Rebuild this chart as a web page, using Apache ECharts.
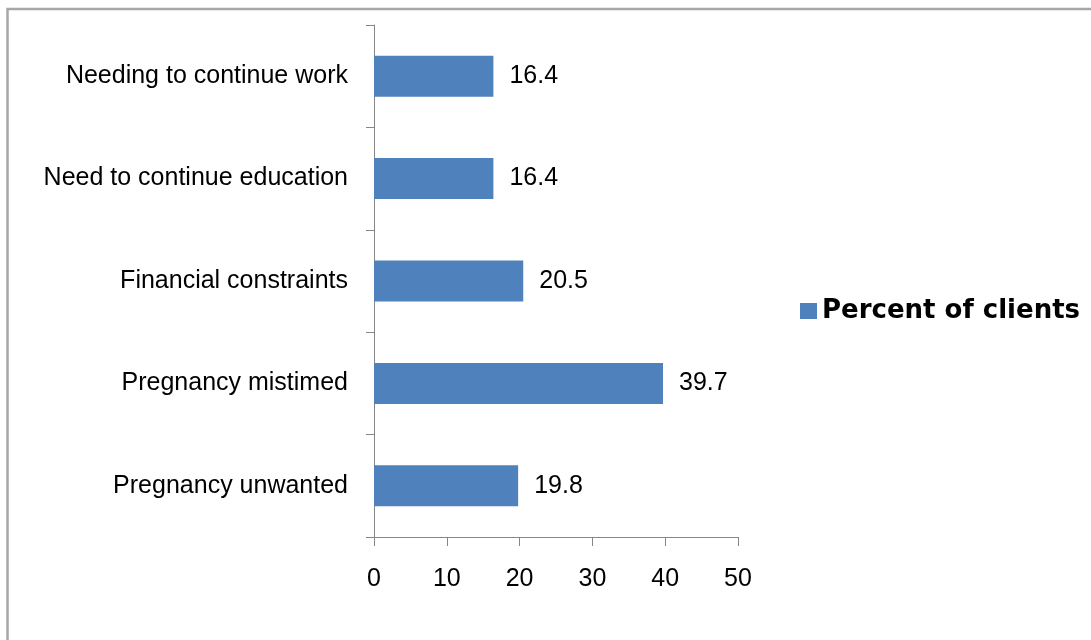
<!DOCTYPE html>
<html>
<head>
<meta charset="utf-8">
<script src="https://cdn.jsdelivr.net/npm/echarts@6/dist/echarts.min.js"></script>
<style>
html,body{margin:0;padding:0;background:#fff;}
#chart{width:1091px;height:640px;}
</style>
</head>
<body>
<div id="chart"></div>
<script>
// Data (bottom to top as drawn)
var categories = ['Pregnancy unwanted', 'Pregnancy mistimed', 'Financial constraints', 'Need to continue education', 'Needing to continue work'];
var percentOfClients = [19.8, 39.7, 20.5, 16.4, 16.4];
var seriesName = 'Percent of clients';
var valueTicks = [0, 10, 20, 30, 40, 50];

var chart = echarts.init(document.getElementById('chart'));
var font = 'Liberation Sans';
chart.setOption({
  animation: false,
  backgroundColor: '#ffffff',
  graphic: [{
    type: 'rect',
    shape: { x: 7.5, y: 9, width: 1200, height: 700 },
    style: { fill: 'none', stroke: '#a6a6a6', lineWidth: 2.5 },
    silent: true
  }],
  grid: { left: 374, right: 353, top: 25, bottom: 103, containLabel: false },
  legend: {
    data: [seriesName],
    left: 795,
    top: 293,
    itemWidth: 17,
    itemHeight: 16,
    itemGap: 6,
    icon: 'rect',
    textStyle: { fontFamily: 'DejaVu Sans', fontWeight: 'bold', fontSize: 26, color: '#000' }
  },
  xAxis: {
    type: 'value',
    min: valueTicks[0],
    max: valueTicks[valueTicks.length - 1],
    interval: 10,
    axisLine: { show: true, lineStyle: { color: '#868686', width: 1 } },
    axisTick: { show: true, length: 9, lineStyle: { color: '#868686' } },
    axisLabel: { margin: 30, fontFamily: font, fontSize: 25, color: '#000' },
    splitLine: { show: false }
  },
  yAxis: {
    type: 'category',
    data: categories,
    axisLine: { show: true, lineStyle: { color: '#868686', width: 1 } },
    axisTick: { show: true, length: 8, alignWithLabel: false, lineStyle: { color: '#868686' } },
    axisLabel: { margin: 26, fontFamily: font, fontSize: 25, color: '#000' },
    splitLine: { show: false }
  },
  series: [{
    name: seriesName,
    type: 'bar',
    data: percentOfClients,
    barWidth: 41,
    itemStyle: { color: '#4f81bd' },
    label: {
      show: true,
      position: 'right',
      distance: 16,
      fontFamily: font,
      fontSize: 25,
      color: '#000',
      formatter: function (p) { return p.value.toFixed(1); }
    }
  }]
});
</script>
</body>
</html>
